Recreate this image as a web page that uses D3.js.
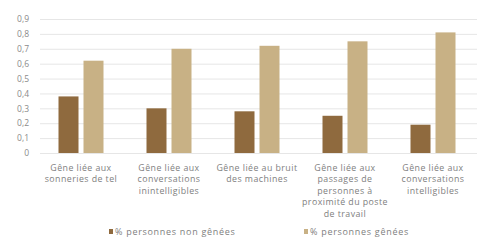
<!DOCTYPE html>
<html><head><meta charset="utf-8">
<script src="https://cdn.jsdelivr.net/npm/d3@7/dist/d3.min.js"></script>
<style>body{margin:0;background:#fff;}svg{display:block;}</style>
</head><body>
<svg id="c" width="485" height="244"></svg>
<script>
const categories = [
  ["Gêne liée aux","sonneries de tel"],
  ["Gêne liée aux","conversations","inintelligibles"],
  ["Gêne liée au bruit","des machines"],
  ["Gêne liée aux","passages de","personnes à","proximité du poste","de travail"],
  ["Gêne liée aux","conversations","intelligibles"]
];
const seriesNames = ["% personnes non gênées","% personnes gênées"];
const nonGenees = [0.38, 0.30, 0.28, 0.25, 0.19];
const genees = [0.62, 0.70, 0.72, 0.75, 0.81];
const yTicks = [0,0.1,0.2,0.3,0.4,0.5,0.6,0.7,0.8,0.9];
const colors = ["#8f6a3e","#c8b185"];
const font = "'Open Sans', sans-serif";

const svg = d3.select("#c");
const x = d3.scaleBand().domain(d3.range(categories.length)).range([37,477]);
const y = d3.scaleLinear().domain([0,0.9]).range([153,19]);
const xs = d3.scaleBand().domain([0,1]).range([0,x.bandwidth()]).paddingInner(0.2).paddingOuter(0.86);

const fmt = d => String(d).replace(".", ",");
const gy = svg.append("g").attr("transform","translate(40,0)")
  .call(d3.axisLeft(y).tickValues(yTicks).tickSize(-437).tickFormat(fmt));
gy.select(".domain").remove();
gy.selectAll(".tick line").attr("stroke","#e6e6e6").attr("stroke-width",1);
gy.selectAll(".tick text").attr("x",-11).attr("fill","#8a8a8a")
  .style("font-family",font).style("font-size","8.5px");

const data = [nonGenees, genees];
data.forEach((vals,s)=>{
  svg.append("g").selectAll("rect").data(vals).join("rect")
    .attr("x",(d,i)=>x(i)+xs(s)).attr("width",xs.bandwidth())
    .attr("y",d=>y(d)).attr("height",d=>y(0)-y(d)).attr("fill",colors[s]);
});

const lab = svg.append("g");
categories.forEach((lines,i)=>{
  const t = lab.append("text").attr("text-anchor","middle")
    .attr("fill","#808080").style("font-family",font).style("font-size","8.8px")
    .style("letter-spacing","0.45px");
  lines.forEach((ln,k)=>{
    t.append("tspan").attr("x",x(i)+x.bandwidth()/2).attr("y",170.5+k*11.6).text(ln);
  });
});

const legX = [109, 304];
seriesNames.forEach((n,s)=>{
  svg.append("rect").attr("x",legX[s]).attr("y",229).attr("width",4).attr("height",5).attr("fill",colors[s]);
  svg.append("text").attr("x",legX[s]+6).attr("y",235).attr("fill","#808080")
    .style("font-family",font).style("font-size","9px").style("letter-spacing","0.7px").text(n);
});
</script>
</body></html>
